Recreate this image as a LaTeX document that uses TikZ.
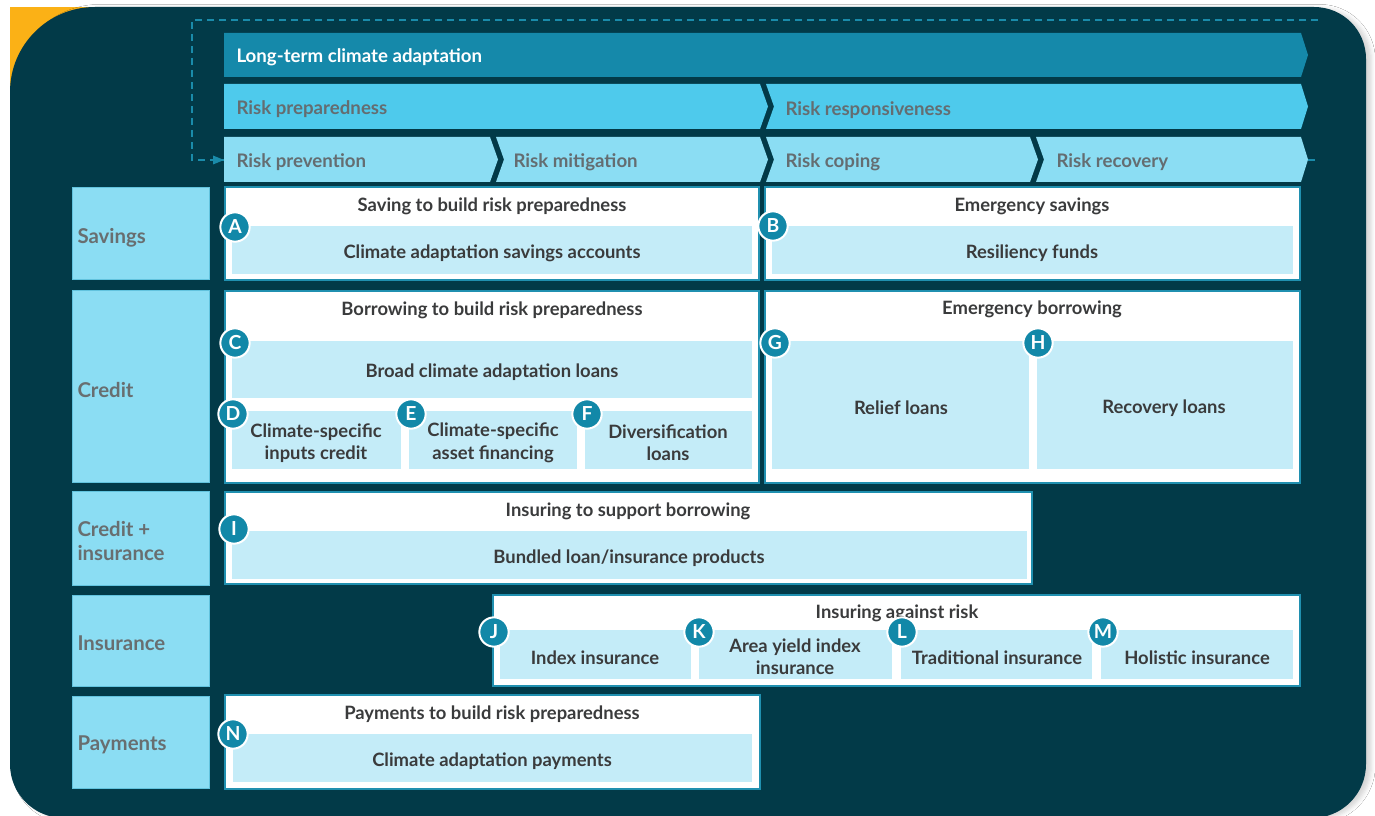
\documentclass[tikz,border=0pt]{standalone}
\usepackage{fontspec}
\setmainfont{Lato}
\usetikzlibrary{shadows.blur}

\definecolor{panelteal}{HTML}{023A48}
\definecolor{cornergold}{HTML}{FBB116}
\definecolor{bandone}{HTML}{1589AA}
\definecolor{bandtwo}{HTML}{4ECAEC}
\definecolor{bandthree}{HTML}{8BDDF3}
\definecolor{rowedge}{HTML}{62C3DE}
\definecolor{innerblue}{HTML}{C4ECF8}
\definecolor{boxedge}{HTML}{2090B0}
\definecolor{badgeteal}{HTML}{1288A8}
\definecolor{dashteal}{HTML}{1A8BAA}
\definecolor{bandgray}{HTML}{646D71}
\definecolor{labelgray}{HTML}{686E70}
\definecolor{textdark}{HTML}{3A3B3C}

\tikzset{every picture/.style={line width=0.75pt}}
\tikzset{
  bandtext/.style={anchor=west, inner sep=0.75pt, text=bandgray, font=\bfseries\fontsize{14}{16}\selectfont},
  rowbox/.style={fill=bandthree, draw=rowedge, line width=0.75pt},
  rowtext/.style={anchor=west, inner sep=0.75pt, align=left, text=labelgray, font=\bfseries\fontsize{15.3}{18.5}\selectfont},
  whitebox/.style={fill=white, draw=boxedge, line width=1.5pt},
  innerbox/.style={fill=innerblue},
  boxtext/.style={inner sep=0.75pt, align=center, text=textdark, font=\bfseries\fontsize{13.8}{16.8}\selectfont},
  badge/.style={circle, fill=badgeteal, draw=white, line width=1.5pt, minimum size=22pt, inner sep=0pt, text=white, font=\bfseries\fontsize{14.5}{15}\selectfont},
  loopline/.style={draw=dashteal, line width=1.5pt, dash pattern=on 5.25pt off 3.75pt},
}

\begin{document}
\begin{tikzpicture}[x=0.75pt,y=0.75pt,yscale=-1,xscale=1]
\useasboundingbox (0,0) rectangle (1375,816);
\fill[white] (0,0) rectangle (1375,816);

%Shape: Corner
\fill[cornergold] (10,7) rectangle (110,105);
%Shape: Panel
\fill[panelteal, blur shadow={shadow xshift=4pt, shadow yshift=-1pt, shadow opacity=16, shadow blur radius=3pt}]
  (10,92) .. controls (10,45) and (48,7) .. (95,7) -- (1314,7) .. controls (1343,7) and (1366,30) .. (1366,59)
  -- (1366,764) .. controls (1366,794) and (1342,818) .. (1312,818) -- (64,818) .. controls (34,818) and (10,794) .. (10,764) -- cycle ;

%Straight Lines (feedback loop)
\coordinate (loopStart) at (1318,20);
\coordinate (loopCorner) at (192,20);
\coordinate (prevEdge) at (224,160);
\coordinate (recEdge) at (1308,160);
\coordinate (recOut) at (1318,160);
\draw[loopline] (loopStart) -- (loopCorner) |- (prevEdge) ;
\draw [shift={(prevEdge)}, rotate=0] [fill=dashteal, draw=none] (-11,-4.5) -- (0,0) -- (-11,4.5) -- cycle ;
\draw[loopline] (recEdge) -- (recOut) ;

%Shape: Band row 1
\fill[bandone] (224,33) -- (1301,33) -- (1308,55) -- (1301,77) -- (224,77) -- cycle ;
%Shape: Band row 2
\fill[bandtwo] (224,84) -- (760,84) -- (768,106.5) -- (760,129) -- (224,129) -- cycle ;
\fill[bandtwo] (766,84) -- (1301,84) -- (1308,106.5) -- (1301,129) -- (766,129) -- (774,106.5) -- cycle ;
%Shape: Band row 3
\fill[bandthree] (224,137) -- (490,137) -- (498,159.5) -- (490,182) -- (224,182) -- cycle ;
\fill[bandthree] (496,137) -- (760,137) -- (768,159.5) -- (760,182) -- (496,182) -- (504,159.5) -- cycle ;
\fill[bandthree] (766,137) -- (1030,137) -- (1038,159.5) -- (1030,182) -- (766,182) -- (774,159.5) -- cycle ;
\fill[bandthree] (1036,137) -- (1301,137) -- (1308,159.5) -- (1301,182) -- (1036,182) -- (1044,159.5) -- cycle ;

% Text Node
\draw (235,57) node [bandtext, text=white] (longterm) {Long-term climate adaptation};
\draw (235,109) node [bandtext] (preparedness) {Risk preparedness};
\draw (784,110) node [bandtext] (responsiveness) {Risk responsiveness};
\draw (235,162) node [bandtext] (prevention) {Risk prevention};
\draw (512,162) node [bandtext] (mitigation) {Risk mitigation};
\draw (784,162) node [bandtext] (coping) {Risk coping};
\draw (1055,162) node [bandtext] (recovery) {Risk recovery};

%Shape: Row labels
\draw[rowbox] (72,188) rectangle (209,280) ;
\draw[rowbox] (72,291) rectangle (209,483) ;
\draw[rowbox] (72,492) rectangle (209,585) ;
\draw[rowbox] (72,595) rectangle (209,686) ;
\draw[rowbox] (72,696) rectangle (209,788) ;
% Text Node
\draw (76,238) node [rowtext] (savingsRow) {Savings};
\draw (76,390) node [rowtext] (creditRow) {Credit};
\draw (76,541) node [rowtext] (creditInsRow) {Credit +\\insurance};
\draw (76,643) node [rowtext] (insuranceRow) {Insurance};
\draw (76,745) node [rowtext] (paymentsRow) {Payments};

%Shape: Savings boxes
\draw[whitebox] (225,187) rectangle (759,280) ;
\fill[innerbox] (232,226) rectangle (752,274) ;
\draw[whitebox] (765,187) rectangle (1300,280) ;
\fill[innerbox] (772,226) rectangle (1293,274) ;
%Shape: Credit boxes
\draw[whitebox] (225,291) rectangle (759,483) ;
\fill[innerbox] (232,341) rectangle (752,398) ;
\fill[innerbox] (232,411) rectangle (401,469) ;
\fill[innerbox] (409,411) rectangle (577,469) ;
\fill[innerbox] (585,411) rectangle (752,469) ;
\draw[whitebox] (765,291) rectangle (1300,483) ;
\fill[innerbox] (772,341) rectangle (1029,469) ;
\fill[innerbox] (1037,341) rectangle (1293,469) ;
%Shape: Credit + insurance box
\draw[whitebox] (225,492) rectangle (1032,584) ;
\fill[innerbox] (232,531) rectangle (1027,579) ;
%Shape: Insurance boxes
\draw[whitebox] (493,595) rectangle (1300,686) ;
\fill[innerbox] (500,630) rectangle (691,679) ;
\fill[innerbox] (699,630) rectangle (892,679) ;
\fill[innerbox] (901,630) rectangle (1092,679) ;
\fill[innerbox] (1101,630) rectangle (1293,679) ;
%Shape: Payments box
\draw[whitebox] (225,695) rectangle (760,789) ;
\fill[innerbox] (233,734) rectangle (752,782) ;

% Text Node
\draw (492,206) node [boxtext] (saveTitle) {Saving to build risk preparedness};
\draw (492,253) node [boxtext] (saveAccounts) {Climate adaptation savings accounts};
\draw (1032,206) node [boxtext] (emergSaveTitle) {Emergency savings};
\draw (1032,253) node [boxtext] (resiliency) {Resiliency funds};
\draw (492,310) node [boxtext] (borrowTitle) {Borrowing to build risk preparedness};
\draw (492,372) node [boxtext] (broadLoans) {Broad climate adaptation loans};
\draw (316,443) node [boxtext] (inputsCredit) {Climate-specific\\inputs credit};
\draw (493,443) node [boxtext] (assetFin) {Climate-specific\\asset financing};
\draw (668,443) node [boxtext] (diversLoans) {Diversification\\loans};
\draw (1032,309) node [boxtext] (emergBorrowTitle) {Emergency borrowing};
\draw (901,408) node [boxtext] (reliefLoans) {Relief loans};
\draw (1164,408) node [boxtext] (recoveryLoans) {Recovery loans};
\draw (628,511) node [boxtext] (insBorrowTitle) {Insuring to support borrowing};
\draw (629,558) node [boxtext] (bundled) {Bundled loan/insurance products};
\draw (897,613) node [boxtext] (insRiskTitle) {Insuring against risk};
\draw (595,658) node [boxtext] (indexIns) {Index insurance};
\draw (795,657) node [boxtext] (areaYield) {Area yield index\\insurance};
\draw (997,658) node [boxtext] (tradIns) {Traditional insurance};
\draw (1197,658) node [boxtext] (holisticIns) {Holistic insurance};
\draw (492,714) node [boxtext] (payTitle) {Payments to build risk preparedness};
\draw (492,761) node [boxtext] (climPayments) {Climate adaptation payments};

%Shape: Badges
\draw (235,227) node [badge] (badgeA) {A};
\draw (773,226) node [badge] (badgeB) {B};
\draw (235,343) node [badge] (badgeC) {C};
\draw (233,414) node [badge] (badgeD) {D};
\draw (411,414) node [badge] (badgeE) {E};
\draw (587,414) node [badge] (badgeF) {F};
\draw (775,343) node [badge] (badgeG) {G};
\draw (1038,343) node [badge] (badgeH) {H};
\draw (234,529) node [badge] (badgeI) {I};
\draw (494,632) node [badge] (badgeJ) {J};
\draw (699,632) node [badge] (badgeK) {K};
\draw (902,632) node [badge] (badgeL) {L};
\draw (1103,632) node [badge] (badgeM) {M};
\draw (233,734) node [badge] (badgeN) {N};

\end{tikzpicture}
\end{document}
